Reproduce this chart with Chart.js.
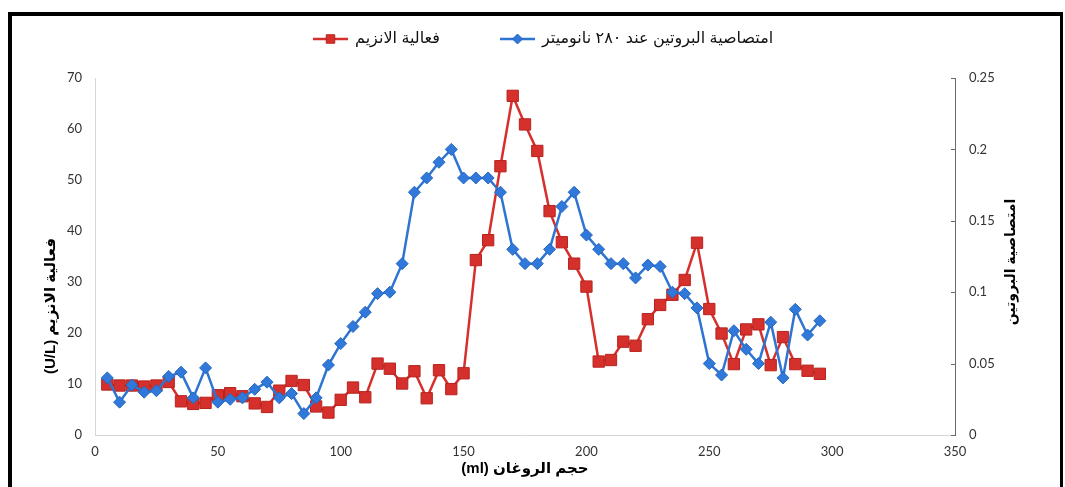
<!DOCTYPE html>
<html>
<head>
<meta charset="utf-8">
<script src="https://cdn.jsdelivr.net/npm/chart.js@4/dist/chart.umd.min.js"></script>
<style>
  html, body { margin: 0; padding: 0; background: #fff; }
  #wrap { position: relative; width: 1065px; height: 487px; overflow: hidden; background: #fff; }
  #frame { position: absolute; left: 8px; top: 12px; width: 1055px; height: 520px;
           border-top: 4px solid #000; border-left: 4px solid #000; border-right: 3px solid #000;
           box-sizing: border-box; }
  canvas { position: absolute; left: 0; top: 0; }
</style>
</head>
<body>
<div id="wrap">
  <div id="frame"></div>
  <canvas id="chart" width="1065" height="487"></canvas>
</div>
<script>
// Elution volume of each collected fraction (ml)
const volumes = [5, 10, 15, 20, 25, 30, 35, 40, 45, 50, 55, 60, 65, 70, 75, 80, 85, 90, 95, 100,
  105, 110, 115, 120, 125, 130, 135, 140, 145, 150, 155, 160, 165, 170, 175, 180, 185, 190, 195, 200,
  205, 210, 215, 220, 225, 230, 235, 240, 245, 250, 255, 260, 265, 270, 275, 280, 285, 290, 295];

// Enzyme activity (U/L)
const enzymeActivity = [9.9, 9.7, 9.7, 9.5, 9.7, 10.4, 6.6, 6.1, 6.3, 7.8, 8.2, 7.6, 6.2, 5.5, 8.7, 10.6, 9.8, 5.6, 4.4, 6.9,
  9.3, 7.4, 14.0, 13.0, 10.1, 12.5, 7.2, 12.7, 9.0, 12.1, 34.3, 38.2, 52.7, 66.5, 60.9, 55.7, 43.9, 37.8, 33.6, 29.1,
  14.4, 14.7, 18.3, 17.5, 22.7, 25.5, 27.5, 30.4, 37.7, 24.7, 19.9, 13.9, 20.7, 21.7, 13.7, 19.2, 13.9, 12.6, 12.0];

// Protein absorbance at 280 nm
const proteinAbsorbance = [0.040, 0.023, 0.035, 0.030, 0.031, 0.041, 0.044, 0.026, 0.047, 0.023, 0.025, 0.026, 0.032, 0.037, 0.026, 0.029, 0.015, 0.026, 0.049, 0.064,
  0.076, 0.086, 0.099, 0.100, 0.120, 0.170, 0.180, 0.191, 0.200, 0.180, 0.180, 0.180, 0.170, 0.130, 0.120, 0.120, 0.130, 0.160, 0.170, 0.140,
  0.130, 0.120, 0.120, 0.110, 0.119, 0.118, 0.100, 0.099, 0.089, 0.050, 0.042, 0.073, 0.060, 0.050, 0.079, 0.040, 0.088, 0.070, 0.080];

const volumeTicks = [0, 50, 100, 150, 200, 250, 300, 350];
const activityTicks = [0, 10, 20, 30, 40, 50, 60, 70];
const absorbanceTicks = [0, 0.05, 0.1, 0.15, 0.2, 0.25];

const activityLabel = 'فعالية الانزيم';
const absorbanceLabel = 'امتصاصية البروتين عند ٢٨٠ نانوميتر';
const xTitle = 'حجم الروغان (ml)';
const yTitle = 'فعالية الانزيم (U/L)';
const y1Title = 'امتصاصية البروتين';

const RED = '#D5302B';
const BLUE = '#2E74D2';
const tickFont = { family: 'Lato, "Liberation Sans", sans-serif', size: 13 };

const pairs = (ys) => volumes.map((v, i) => ({ x: v, y: ys[i] }));

// Legend: line-with-marker symbol followed by its label
const lineLegend = {
  id: 'lineLegend',
  afterDraw(chart) {
    const ctx = chart.ctx;
    const items = [
      { ds: chart.data.datasets[0], symLeft: 313, r: 6 },
      { ds: chart.data.datasets[1], symLeft: 500, r: 5 }
    ];
    const y = 39;
    const symLen = 35;
    const gap = 7;
    ctx.save();
    ctx.font = '16px "Liberation Sans", "DejaVu Sans", sans-serif';
    ctx.direction = 'rtl';
    ctx.textBaseline = 'middle';
    ctx.textAlign = 'right';
    items.forEach(it => {
      const w = ctx.measureText(it.ds.label).width;
      const sStart = it.symLeft;
      const sEnd = sStart + symLen;
      ctx.fillStyle = '#111';
      ctx.fillText(it.ds.label, sEnd + gap + w, y);
      ctx.strokeStyle = it.ds.borderColor;
      ctx.lineWidth = 2.5;
      ctx.beginPath();
      ctx.moveTo(sStart, y);
      ctx.lineTo(sEnd, y);
      ctx.stroke();
      ctx.fillStyle = it.ds.pointBackgroundColor;
      ctx.strokeStyle = it.ds.pointBorderColor;
      ctx.lineWidth = 1;
      Chart.helpers.drawPoint(ctx, { pointStyle: it.ds.pointStyle, radius: it.r, borderWidth: 1, rotation: 0 },
        (sStart + sEnd) / 2, y);
    });
    ctx.restore();
  }
};

// Axis titles (rotated side titles) and inward tick marks on the right axis
const axisDecor = {
  id: 'axisDecor',
  afterDraw(chart) {
    const { ctx, chartArea: a } = chart;
    ctx.save();
    ctx.fillStyle = '#000';
    ctx.direction = 'rtl';
    ctx.textAlign = 'center';
    ctx.textBaseline = 'middle';

    ctx.font = 'bold 15px "Liberation Sans", "DejaVu Sans", sans-serif';
    ctx.fillText(xTitle, (a.left + a.right) / 2, 469);

    ctx.save();
    ctx.translate(51, 306);
    ctx.rotate(-Math.PI / 2);
    ctx.fillText(yTitle, 0, 0);
    ctx.restore();

    ctx.font = 'bold 14px "Liberation Sans", "DejaVu Sans", sans-serif';
    ctx.save();
    ctx.translate(1011, 262);
    ctx.rotate(-Math.PI / 2);
    ctx.fillText(y1Title, 0, 0);
    ctx.restore();

    const s = chart.scales.y1;
    ctx.strokeStyle = '#6b6b6b';
    ctx.lineWidth = 1;
    s.ticks.forEach(t => {
      const py = Math.round(s.getPixelForValue(t.value)) + 0.5;
      ctx.beginPath();
      ctx.moveTo(s.left - 4, py);
      ctx.lineTo(s.left, py);
      ctx.stroke();
    });
    ctx.restore();
  }
};

new Chart(document.getElementById('chart'), {
  type: 'line',
  data: {
    datasets: [
      {
        label: activityLabel,
        data: pairs(enzymeActivity),
        yAxisID: 'y',
        order: 2,
        borderColor: RED,
        backgroundColor: RED,
        borderWidth: 2.5,
        pointStyle: 'rect',
        pointRadius: 8,
        pointBackgroundColor: RED,
        pointBorderColor: '#B8231F',
        pointBorderWidth: 1,
        tension: 0
      },
      {
        label: absorbanceLabel,
        data: pairs(proteinAbsorbance),
        yAxisID: 'y1',
        order: 1,
        borderColor: BLUE,
        backgroundColor: BLUE,
        borderWidth: 2.5,
        pointStyle: 'rectRot',
        pointRadius: 6,
        pointBackgroundColor: '#3079DA',
        pointBorderColor: '#2566BE',
        pointBorderWidth: 1,
        tension: 0
      }
    ]
  },
  options: {
    responsive: false,
    animation: false,
    devicePixelRatio: 1,
    layout: { padding: { top: 78, left: 0, right: 0, bottom: 0 } },
    plugins: {
      legend: { display: false },
      title: { display: false },
      tooltip: { enabled: false }
    },
    scales: {
      x: {
        type: 'linear',
        min: volumeTicks[0],
        max: volumeTicks[volumeTicks.length - 1],
        afterBuildTicks: s => { s.ticks = volumeTicks.map(v => ({ value: v })); },
        afterFit: s => { s.height = 52; },
        grid: { display: false, drawTicks: false },
        border: { display: true, color: '#d6d6d6', width: 1 },
        ticks: { font: tickFont, color: '#333', padding: 9, maxRotation: 0, callback: v => String(v) }
      },
      y: {
        type: 'linear',
        position: 'left',
        min: activityTicks[0],
        max: activityTicks[activityTicks.length - 1],
        afterBuildTicks: s => { s.ticks = activityTicks.map(v => ({ value: v })); },
        afterFit: s => { s.width = 95; },
        grid: { display: false, drawTicks: false },
        border: { display: true, color: '#d6d6d6', width: 1 },
        ticks: { font: tickFont, color: '#333', padding: 13, callback: v => String(v) }
      },
      y1: {
        type: 'linear',
        position: 'right',
        min: absorbanceTicks[0],
        max: absorbanceTicks[absorbanceTicks.length - 1],
        afterBuildTicks: s => { s.ticks = absorbanceTicks.map(v => ({ value: v })); },
        afterFit: s => { s.width = 110; },
        grid: { display: false, drawTicks: false },
        border: { display: true, color: '#6b6b6b', width: 1 },
        ticks: { font: tickFont, color: '#333', padding: 14, callback: v => String(v) }
      }
    }
  },
  plugins: [lineLegend, axisDecor]
});
</script>
</body>
</html>
